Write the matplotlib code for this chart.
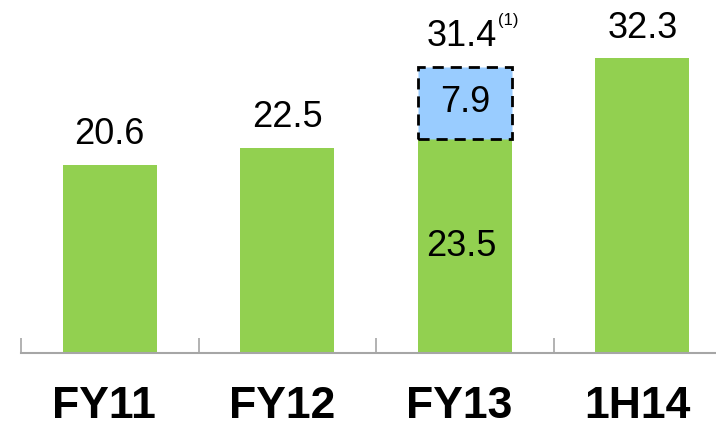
import matplotlib
matplotlib.use('Agg')
import matplotlib.pyplot as plt
import matplotlib.transforms as mtransforms

# Chart values
periods = ['FY11', 'FY12', 'FY13', '1H14']
base_values = [20.6, 22.5, 23.5, 32.3]
extra_values = [0, 0, 7.9, 0]   # only FY13 has the added part
totals = [20.6, 22.5, 31.4, 32.3]

green = '#92D050'
blue = '#99CCFF'

plt.rcParams['font.family'] = ['Liberation Sans', 'DejaVu Sans']

fig = plt.figure(figsize=(7.16, 4.29), dpi=100)
ax = fig.add_axes([21 / 716, 76 / 429, 695 / 716, 353 / 429])

x = list(range(len(periods)))
ax.bar(x, base_values, width=0.53, color=green, zorder=2)

# dashed box for the FY13 addition
ax.bar(x[2], extra_values[2], bottom=base_values[2], width=0.53, color=blue,
       edgecolor='black', linewidth=2, linestyle=(0, (4, 2.5)), zorder=3)

ax.set_xlim(-0.5, 3.415)
ax.set_ylim(0, 38.7)

# labels above bars
for i in x:
    if i == 2:
        continue
    ax.annotate(f'{totals[i]}', (i, totals[i]), xytext=(0, 15), textcoords='offset points',
                ha='center', va='baseline', fontsize=26)

ax.annotate(f'{totals[2]}', (2, totals[2]), xytext=(23, 15), textcoords='offset points',
            ha='right', va='baseline', fontsize=26)
ax.annotate('(1)', (2, totals[2]), xytext=(24, 30), textcoords='offset points',
            ha='left', va='baseline', fontsize=12)

# labels inside FY13
ax.text(2, base_values[2] + extra_values[2] / 2, f'{extra_values[2]}',
        ha='center', va='center', fontsize=26, zorder=4)
ax.text(2 - 0.02, 11.7, f'{base_values[2]}', ha='center', va='center', fontsize=26, zorder=4)

# category labels, kept inside the bottom edge
trans = mtransforms.blended_transform_factory(ax.transData, ax.transAxes)
for i, p in enumerate(periods):
    ax.text(i - 0.03, -74 / 353, p, transform=trans, ha='center', va='bottom',
            fontsize=32, fontweight='bold')

for side in ['left', 'right', 'top']:
    ax.spines[side].set_visible(False)
ax.spines['bottom'].set_color('#a6a6a6')
ax.spines['bottom'].set_linewidth(1.5)
ax.set_yticks([])
ax.set_xticks([-0.5, 0.5, 1.5, 2.5])
ax.set_xticklabels([])
ax.tick_params(axis='x', direction='in', length=11, width=1.2, color='#a6a6a6')

fig.savefig('out.png', dpi=100)
